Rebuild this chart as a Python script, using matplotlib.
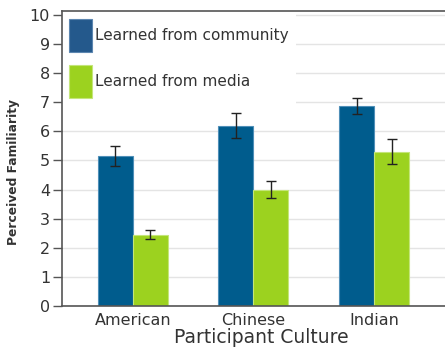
import numpy as np
import matplotlib
matplotlib.use("Agg")
import matplotlib.pyplot as plt

# ---- data ----
cultures = ["American", "Chinese", "Indian"]
community = [5.15, 6.2, 6.88]
community_err = [0.35, 0.42, 0.27]
media = [2.45, 4.0, 5.3]
media_err = [0.15, 0.29, 0.42]

BLUE, BLUE_EDGE = "#005c8d", "#4f8fb8"
GREEN, GREEN_EDGE = "#9cd21f", "#c4e57a"
LEG_BLUE = "#24598c"
AXIS, GRID, INK = "#555555", "#e4e4e4", "#333333"

plt.rcParams.update({"font.family": "DejaVu Sans"})
fig = plt.figure(figsize=(4.45, 3.52), dpi=100)
ax = fig.add_axes([0.139, 0.131, 0.861, 0.838])

x = np.arange(len(cultures))
w = 0.29
ax.bar(x - w / 2, community, w, color=BLUE, edgecolor=BLUE_EDGE, lw=0.8, zorder=3)
ax.bar(x + w / 2, media, w, color=GREEN, edgecolor=GREEN_EDGE, lw=0.8, zorder=3)
ax.errorbar(x - w / 2, community, yerr=community_err, fmt="none", ecolor="#222222",
            elinewidth=1, capsize=3.3, capthick=1, zorder=4)
ax.errorbar(x + w / 2, media, yerr=media_err, fmt="none", ecolor="#222222",
            elinewidth=1, capsize=3.3, capthick=1, zorder=4)

ax.set_xlim(-0.587, 2.587)
ax.set_ylim(0, 10.14)
ax.set_yticks(range(0, 11))
ax.set_xticks(x)
ax.set_xticklabels(cultures, fontsize=11.5, color=INK)
ax.tick_params(axis="x", length=0, pad=5)
ax.tick_params(axis="y", length=6.5, width=1, color=AXIS, labelsize=11.5, labelcolor=INK, pad=2)
ax.grid(axis="y", color=GRID, lw=1, zorder=0)
ax.set_axisbelow(True)
for sp in ("left", "bottom", "top"):
    ax.spines[sp].set_color(AXIS)
    ax.spines[sp].set_linewidth(1.2)
    ax.spines[sp].set_zorder(6)
ax.spines["right"].set_visible(False)

ax.set_ylabel("Perceived Familiarity", fontsize=8.8, fontweight="bold", color=INK, labelpad=7)
ax.yaxis.label.set_y(0.454)
ax.set_xlabel("Participant Culture", fontsize=13.5, color=INK, labelpad=0)
ax.xaxis.label.set_x(0.521)

handles = [plt.Rectangle((0, 0), 1, 1, facecolor=LEG_BLUE, edgecolor="#5c86b0", lw=0.8),
           plt.Rectangle((0, 0), 1, 1, facecolor=GREEN, edgecolor=GREEN_EDGE, lw=0.8)]
leg = ax.legend(handles, ["Learned from community", "Learned from media"],
                loc="upper left", bbox_to_anchor=(0.0, 0.995), fontsize=11,
                handlelength=1.5, handleheight=2.95, handletextpad=0.25,
                labelspacing=0.85, borderpad=0.45, borderaxespad=0,
                frameon=True, fancybox=False, framealpha=1)
leg.get_frame().set_edgecolor("none")
leg.get_frame().set_facecolor("white")
leg.set_zorder(5)
for t in leg.get_texts():
    t.set_color(INK)

fig.savefig("out.png", dpi=100, facecolor="white")
